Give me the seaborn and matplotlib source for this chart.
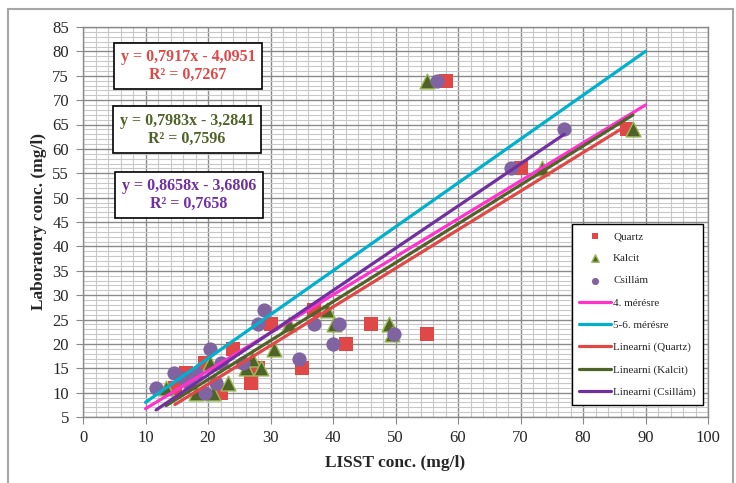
import numpy as np
import pandas as pd
import matplotlib
matplotlib.use('Agg')
import matplotlib.pyplot as plt
from matplotlib.patches import Rectangle
from matplotlib.ticker import MultipleLocator
import seaborn as sns

# measured points (LISST conc. vs laboratory conc.)
quartz_x = [14.7, 16.5, 19.5, 22, 24, 26.8, 28, 30, 35, 37, 42, 46, 55, 58, 70, 87]
quartz_y = [11, 14, 16, 10, 19, 12, 15, 24, 15, 27, 20, 24, 22, 74, 56, 64]

kalcit_x = [13.3, 18, 20.3, 20.8, 23.2, 26, 27, 28.5, 30.5, 33, 39, 40.2, 49, 49.5, 55, 73.5, 88]
kalcit_y = [11, 10, 16, 10, 12, 15, 17, 15, 19, 24, 27, 24, 24, 22, 74, 56, 64]

csillam_x = [11.7, 14.5, 16, 17, 18, 19.5, 20.3, 21.3, 22, 25.6, 28, 29, 34.6, 37, 40, 41, 49.8, 56.7, 68.4, 77]
csillam_y = [11, 14, 13, 12, 14, 10, 19, 12, 16, 16, 24, 27, 17, 24, 20, 24, 22, 74, 56, 64]

# reference lines
meres4_x = [10, 90]
meres4_y = [6.7, 69]
meres56_x = [10, 90]
meres56_y = [8, 80]

# trendline equations
fit_slope = [0.7917, 0.7983, 0.8658]
fit_icpt = [-4.0951, -3.2841, -3.6806]
fit_r2 = [0.7267, 0.7596, 0.7658]

c_quartz = '#E04848'
c_kalcit = '#4F6228'
c_csillam = '#8064A2'
c_lin_csillam = '#7030A0'

sns.set_style('white')
plt.rcParams['font.family'] = ['Liberation Serif', 'DejaVu Serif']

fig = plt.figure(figsize=(7.36, 4.83), dpi=100)
ax = fig.add_axes([83 / 736, 1 - 417 / 483, 625 / 736, 390 / 483])

# pontok
sns.scatterplot(x=quartz_x, y=quartz_y, marker='s', s=100, color=c_quartz,
                edgecolor=c_quartz, linewidth=0, label='Quartz', ax=ax, zorder=3)
sns.scatterplot(x=kalcit_x, y=kalcit_y, marker='^', s=115, color=c_kalcit,
                edgecolor='#9BBB59', linewidth=1, label='Kalcit', ax=ax, zorder=3)
sns.scatterplot(x=csillam_x, y=csillam_y, marker='o', s=105, color=c_csillam,
                edgecolor=c_csillam, linewidth=0, label='Csillám', ax=ax, zorder=3)

# vonalak
sns.lineplot(x=meres4_x, y=meres4_y, color='#FF33CC', lw=2.3, label='4. mérésre', ax=ax, zorder=4)
sns.lineplot(x=meres56_x, y=meres56_y, color='#00B0CC', lw=2.3, label='5-6. mérésre', ax=ax, zorder=4)

series = [('Quartz', quartz_x, c_quartz), ('Kalcit', kalcit_x, c_kalcit), ('Csillám', csillam_x, c_lin_csillam)]
for (name, xs, col), m, b in zip(series, fit_slope, fit_icpt):
    xx = np.array([min(xs), max(xs)])
    sns.lineplot(x=xx, y=m * xx + b, color=col, lw=2.3, label=f'Linearni ({name})', ax=ax, zorder=4)

ax.set_xlim(0, 100)
ax.set_ylim(5, 85)
ax.set_xticks(range(0, 101, 10))
ax.set_yticks(range(5, 86, 5))
ax.xaxis.set_minor_locator(MultipleLocator(2))
ax.yaxis.set_minor_locator(MultipleLocator(1))
ax.grid(which='minor', color='#c8c8c8', lw=0.8)
ax.grid(which='major', color='#8a8a8a', lw=1.0)
ax.set_axisbelow(True)
ax.tick_params(which='major', direction='out', length=5, color='#8a8a8a', labelsize=12, pad=4, bottom=True, left=True)
ax.tick_params(axis='y', pad=5)
ax.tick_params(which='minor', length=0)
for sp in ax.spines.values():
    sp.set_color('#8a8a8a')
    sp.set_linewidth(1.0)

ax.set_xlabel('LISST conc. (mg/l)', fontsize=12.5, fontweight='bold', labelpad=7)
ax.set_ylabel('Laboratory conc. (mg/l)', fontsize=12.5, fontweight='bold', labelpad=4)

# egyenletek
box_pos = [(188, 66), (187, 129.5), (189, 195)]
box_cols = [c_quartz, c_kalcit, c_lin_csillam]
for (px, py), col, m, b, r2 in zip(box_pos, box_cols, fit_slope, fit_icpt, fit_r2):
    txt = f'y = {m:.4f}x - {abs(b):.4f}\nR² = {r2:.4f}'.replace('.', ',')
    fig.text(px / 736, 1 - py / 483, txt, ha='center', va='center', color=col,
             fontsize=11.5, fontweight='bold', linespacing=1.15,
             bbox=dict(boxstyle='square,pad=0.4', fc='white', ec='black', lw=1.2), zorder=6)

handles, labels = ax.get_legend_handles_labels()
leg = ax.legend(handles, labels, loc='upper left', bbox_to_anchor=(572 / 736, 1 - 224 / 483),
                bbox_transform=fig.transFigure, fontsize=8, frameon=True, fancybox=False,
                edgecolor='black', framealpha=1, labelspacing=1.12, handlelength=2.9,
                handletextpad=0.15, borderpad=0.65, markerscale=0.5, borderaxespad=0)
leg.get_frame().set_linewidth(1.0)
leg.set_zorder(7)

# keret
fig.patches.append(Rectangle((8 / 736, -0.02), 725 / 736, 474 / 483 + 0.02, transform=fig.transFigure,
                             fill=False, ec='#a6a6a6', lw=1.5))

fig.savefig('out.png', dpi=100)
